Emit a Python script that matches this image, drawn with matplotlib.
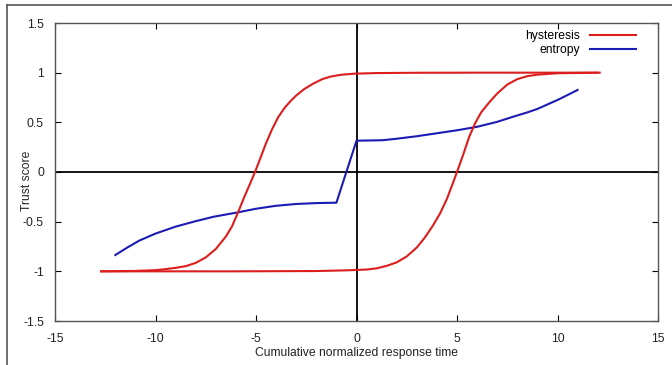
import matplotlib
matplotlib.use("Agg")
import matplotlib.pyplot as plt
from matplotlib.lines import Line2D

plt.rcParams['font.family'] = ['Liberation Sans', 'DejaVu Sans']

# hysteresis, upper branch (rises near x=-5)
hyst_up_x = [-12.7, -11.0, -10.0, -9.5, -9.0, -8.5, -8.0, -7.5, -7.0, -6.5, -6.2, -5.9,
             -5.6, -5.3, -5.05, -4.8, -4.5, -4.2, -3.9, -3.6, -3.3, -3.0, -2.6, -2.15,
             -1.7, -1.3, -0.8, -0.1, 1.0, 3.0, 6.0, 12.0]
hyst_up_y = [-1.0, -0.996, -0.988, -0.978, -0.965, -0.948, -0.915, -0.86, -0.775, -0.65, -0.55, -0.41,
             -0.26, -0.12, 0.0, 0.13, 0.29, 0.43, 0.55, 0.64, 0.71, 0.77, 0.835, 0.89,
             0.935, 0.96, 0.978, 0.99, 0.996, 0.999, 1.0, 1.0]
# hysteresis, lower branch (rises near x=5)
hyst_lo_x = [-12.7, -6.0, -2.0, -0.5, 0.5, 1.0, 1.5, 2.0, 2.5, 3.0, 3.4, 3.8, 4.15,
             4.5, 4.8, 5.0, 5.3, 5.6, 5.9, 6.2, 6.6, 7.0, 7.5, 8.0, 8.5, 9.0, 10.0, 12.1]
hyst_lo_y = [-1.0, -1.0, -0.997, -0.99, -0.982, -0.97, -0.945, -0.91, -0.85, -0.76, -0.66, -0.54, -0.42,
             -0.27, -0.11, 0.0, 0.17, 0.35, 0.49, 0.6, 0.7, 0.79, 0.88, 0.935, 0.965, 0.98, 0.994, 1.0]
# entropy
ent_x = [-12.0, -11.4, -10.8, -10.0, -9.0, -8.0, -7.1, -6.0, -5.0, -4.0, -3.0, -2.0, -1.0,
         0.0, 1.3, 2.0, 3.0, 4.0, 5.0, 6.0, 7.0, 7.8, 8.5, 9.0, 9.5, 10.0, 10.5, 11.0]
ent_y = [-0.836, -0.76, -0.69, -0.62, -0.55, -0.495, -0.45, -0.41, -0.37, -0.34, -0.322, -0.313, -0.309,
         0.315, 0.32, 0.335, 0.36, 0.39, 0.42, 0.455, 0.505, 0.557, 0.6, 0.635, 0.68, 0.725, 0.775, 0.826]

xticks = [-15, -10, -5, 0, 5, 10, 15]
yticks = [-1.5, -1, -0.5, 0, 0.5, 1, 1.5]
ytick_labels = ['-1.5', '-1', '-0.5', '0', '0.5', '1', '1.5']

red = '#dc1e1e'
blue = '#1c1cb4'

fig = plt.figure(figsize=(6.72, 3.65), dpi=100)
W, H = 672, 365
ax = fig.add_axes([55 / W, (H - 321) / H, (658 - 55) / W, (321 - 23) / H])

# outer frame of the screenshot (left and top only)
fig.add_artist(Line2D([6.5 / W, 6.5 / W], [0, (H - 5) / H], color='#555555', lw=1.2))
fig.add_artist(Line2D([6.5 / W, 1], [(H - 5) / H, (H - 5) / H], color='#555555', lw=1.2))

ax.axhline(0, color='black', lw=1.3, zorder=1)
ax.axvline(0, color='black', lw=1.3, zorder=1)

ax.plot(hyst_up_x, hyst_up_y, color=red, lw=1.5, label='hysteresis', zorder=3)
ax.plot(hyst_lo_x, hyst_lo_y, color=red, lw=1.5, zorder=3)
ax.plot(ent_x, ent_y, color=blue, lw=1.5, label='entropy', zorder=2)

ax.set_xlim(-15, 15)
ax.set_ylim(-1.5, 1.5)
ax.set_xticks(xticks)
ax.set_yticks(yticks)
ax.set_xticklabels([str(t) for t in xticks])
ax.set_yticklabels(ytick_labels)
ax.tick_params(direction='in', length=4, width=0.8, top=True, right=True,
               labelsize=8.7, labelcolor='#222222', pad=8)
ax.tick_params(axis='x', pad=9)
for s in ax.spines.values():
    s.set_color('#555555')
    s.set_linewidth(1.0)

ax.set_xlabel('Cumulative normalized response time', fontsize=8.7, color='#222222')
ax.xaxis.set_label_coords(0.5, -0.088)
ax.set_ylabel('Trust score', fontsize=8.7, color='#222222')
ax.yaxis.set_label_coords(-0.036, 0.47)

ax.legend(loc='upper right', bbox_to_anchor=(0.975, 1.0), frameon=False, markerfirst=False,
          fontsize=8.7, handlelength=3.8, handletextpad=0.8, labelspacing=0.15,
          borderaxespad=0.2)

fig.savefig('out.png', dpi=100, facecolor='white')
